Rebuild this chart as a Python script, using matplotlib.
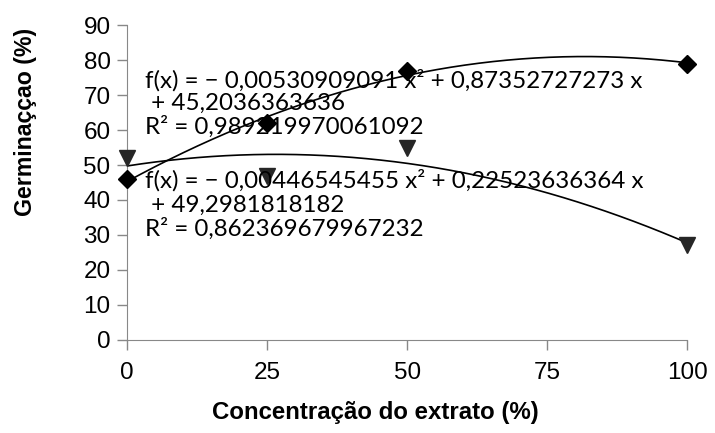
import numpy as np
import matplotlib
matplotlib.use("Agg")
import matplotlib.pyplot as plt

conc = [0, 25, 50, 100]
serie_a = [46, 62, 77, 79]   # diamonds
serie_b = [52, 47, 55, 27]   # triangles
xticks = [0, 25, 50, 75, 100]
yticks = list(range(0, 100, 10))

eq_a = ["f(x) = − 0,00530909091 x² + 0,87352727273 x", " + 45,2036363636", "R² = 0,989219970061092"]
eq_b = ["f(x) = − 0,00446545455 x² + 0,22523636364 x", " + 49,2981818182", "R² = 0,862369679967232"]

fig = plt.figure(figsize=(7.15, 4.33), dpi=100)
ax = fig.add_axes([0.178, 0.215, 0.783, 0.727])

xs = np.linspace(0, 100, 200)
for ys in (serie_a, serie_b):
    c = np.polyfit(conc, ys, 2)
    ax.plot(xs, np.polyval(c, xs), color="black", lw=1.2, zorder=2)

ax.plot(conc, serie_a, linestyle="none", marker="D", ms=9.5, color="black", zorder=3, clip_on=False)
ax.plot(conc, serie_b, linestyle="none", marker="v", ms=12, color="#262626", zorder=3, clip_on=False)

ax.set_xlim(0, 100)
ax.set_ylim(0, 90)
ax.set_xticks(xticks)
ax.set_yticks(yticks)
tickfont = dict(family=["Liberation Sans", "DejaVu Sans"], size=17.5)
ax.set_xticklabels([str(t) for t in xticks], **tickfont)
ax.set_yticklabels([str(t) for t in yticks], **tickfont)
ax.tick_params(direction="out", length=7, color="#888888", width=1, pad=5)
ax.tick_params(axis="x", pad=9)
for s in ("top", "right"):
    ax.spines[s].set_visible(False)
for s in ("left", "bottom"):
    ax.spines[s].set_color("#888888")

labfont = dict(fontweight="bold", family=["Liberation Sans", "DejaVu Sans"])
fig.text(375/715, 1-412/433, "Concentração do extrato (%)", ha="center", va="center", fontsize=17.3, **labfont)
fig.text(26/715, 1-122/433, "Germinaççao (%)", ha="center", va="center", rotation=90, fontsize=16.7, **labfont)

eqfont = dict(family=["Lato", "DejaVu Sans"], fontsize=17.4, color="black")
fig.text(145/715, 1-80/433, eq_a[0], va="center", ha="left", **eqfont)
fig.text(145/715, 1-103/433, eq_a[1], va="center", ha="left", **eqfont)
fig.text(145/715, 1-127/433, eq_a[2], va="center", ha="left", **eqfont)
fig.text(145/715, 1-180/433, eq_b[0], va="center", ha="left", **eqfont)
fig.text(145/715, 1-205/433, eq_b[1], va="center", ha="left", **eqfont)
fig.text(145/715, 1-229/433, eq_b[2], va="center", ha="left", **eqfont)

fig.savefig("out.png", dpi=100)
